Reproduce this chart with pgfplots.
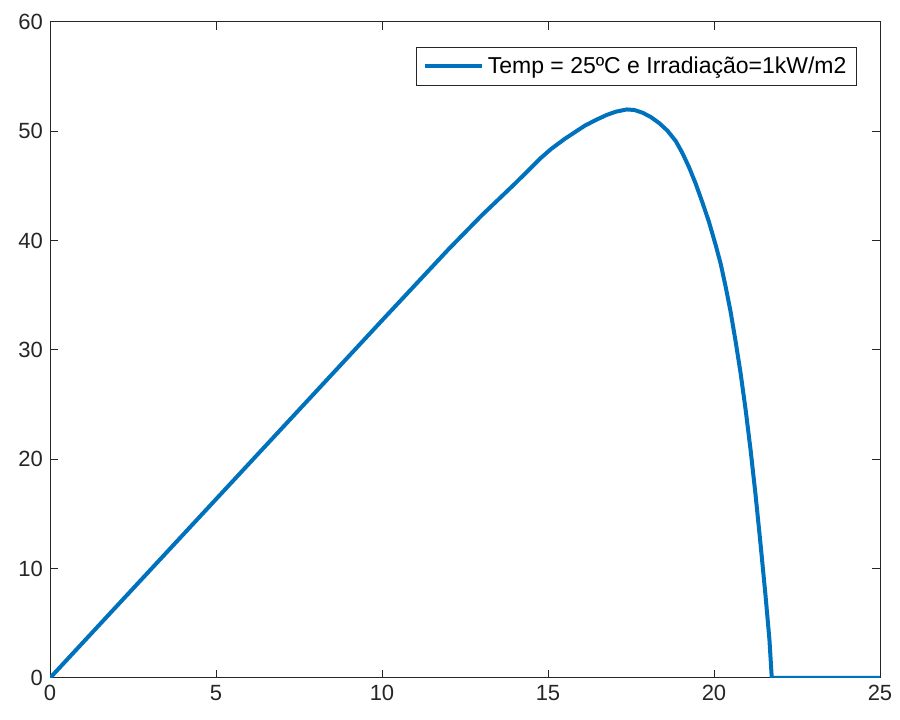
\documentclass[border=0pt]{standalone}
\usepackage{pgfplots}
\pgfplotsset{compat=1.18}
\usepackage{fontspec}
\setmainfont{Liberation Sans}
\definecolor{mblue}{RGB}{0,114,189}
\definecolor{axgray}{RGB}{38,38,38}
\begin{document}
\begin{tikzpicture}
\begin{axis}[
  scale only axis,
  width=415pt, height=328pt,
  xmin=0, xmax=25, ymin=0, ymax=60,
  xtick={0,5,...,25}, ytick={0,10,...,60},
  tick align=inside,
  axis line style={axgray, line width=0.5pt},
  every tick/.style={axgray, line width=0.5pt},
  major tick length=4pt,
  tick label style={font=\fontsize{11}{13}\selectfont, text=axgray},
  /pgf/number format/assume math mode=true,
  legend style={at={(1,1)}, xshift=-11.5pt, yshift=-12.5pt, anchor=north east,
    draw=axgray, line width=0.5pt, font=\fontsize{11.5}{13}\selectfont,
    inner xsep=3pt, inner ysep=2.5pt},
  legend cell align=left,
  legend image code/.code={\draw[#1] (0cm,0cm) -- (1cm,0cm);},
]
\addplot[mblue, line width=2pt, line join=round] coordinates {
(0,0) (2,6.54) (4,13.08) (6,19.62) (8,26.16) (10,32.7) (12,39.2) (13,42.3)
(14,45.2) (14.4,46.4) (14.76,47.5) (15.1,48.4) (15.5,49.3) (15.8,49.9)
(16.1,50.5) (16.45,51.05) (16.77,51.5) (17.05,51.8) (17.37,52.0) (17.6,51.95)
(17.85,51.7) (18.1,51.3) (18.35,50.75) (18.6,50.05) (18.85,49.1) (19.05,48.0)
(19.25,46.7) (19.45,45.2) (19.65,43.5) (19.85,41.7) (20.05,39.6) (20.2,37.9)
(20.35,35.8) (20.5,33.5) (20.65,30.8) (20.8,27.9) (20.95,24.6) (21.1,20.9)
(21.25,16.8) (21.4,12.3) (21.55,7.6) (21.67,3.5) (21.74,0) (25,0)
};
\addlegendentry{Temp = 25ºC e Irradiação=1kW/m2}
\end{axis}
\pgfresetboundingbox
\path ([shift={(-25pt,-21pt)}]current axis.south west) rectangle ([shift={(10pt,11pt)}]current axis.north east);
\end{tikzpicture}
\end{document}
